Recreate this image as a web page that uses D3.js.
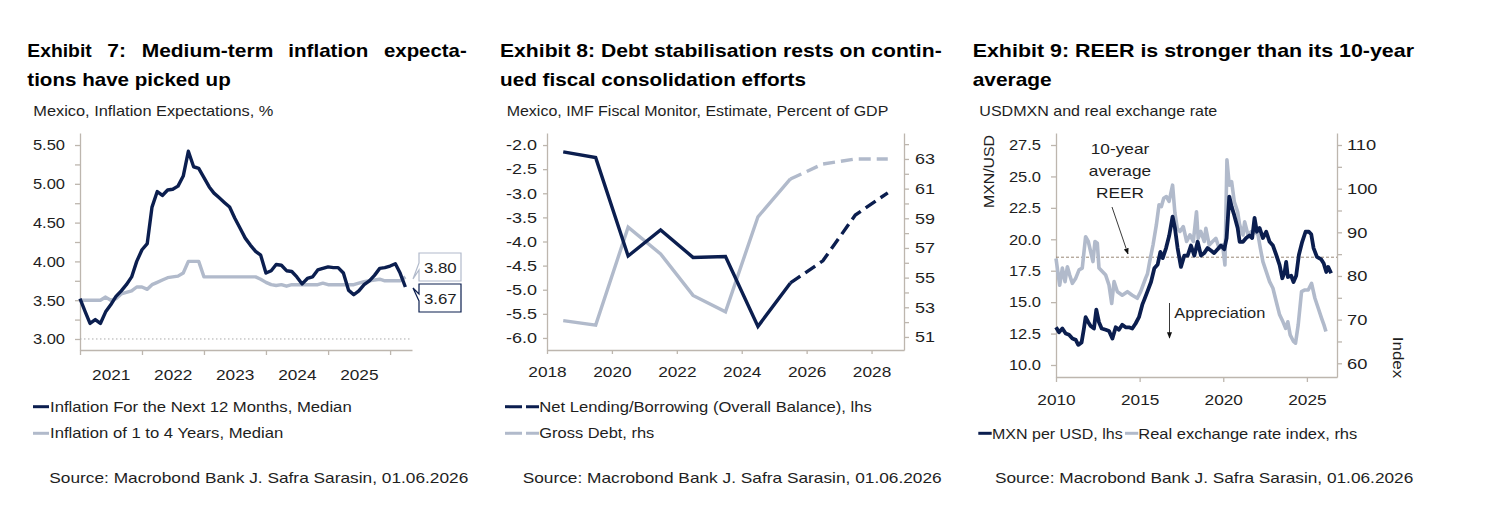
<!doctype html>
<html>
<head>
<meta charset="utf-8">
<script src="https://d3js.org/d3.v7.min.js"></script>
<style>
  body { margin: 0; background: #fff; }
  text { font-family: "Liberation Sans", Arial, sans-serif; }
</style>
</head>
<body>
<script>
// ---- data: Exhibit 7 (monthly, from Jan 2021) ----
var infStart = new Date(2021, 0, 1);
var inf12m = [3.52, 3.35, 3.20, 3.25, 3.20, 3.35, 3.44, 3.55, 3.62, 3.70, 3.80, 4.00,
              4.15, 4.23, 4.70, 4.90, 4.85, 4.92, 4.93, 4.97, 5.10, 5.42, 5.22, 5.20,
              5.08, 4.96, 4.88, 4.82, 4.76, 4.70, 4.56, 4.43, 4.30, 4.21, 4.13, 4.08,
              3.85, 3.88, 3.96, 3.95, 3.88, 3.87, 3.80, 3.71, 3.78, 3.80, 3.89, 3.91,
              3.93, 3.92, 3.92, 3.85, 3.63, 3.57, 3.62, 3.70, 3.75, 3.82, 3.91, 3.92,
              3.94, 3.97, 3.85, 3.67];
var inf1to4 = [3.50, 3.50, 3.50, 3.50, 3.50, 3.54, 3.50, 3.52, 3.58, 3.60, 3.62, 3.67,
               3.67, 3.64, 3.70, 3.73, 3.76, 3.79, 3.80, 3.81, 3.85, 4.00, 4.00, 4.00,
               3.80, 3.80, 3.80, 3.80, 3.80, 3.80, 3.80, 3.80, 3.80, 3.80, 3.80, 3.77,
               3.73, 3.70, 3.69, 3.70, 3.68, 3.70, 3.70, 3.70, 3.70, 3.70, 3.70, 3.72,
               3.70, 3.70, 3.70, 3.70, 3.70, 3.70, 3.72, 3.74, 3.75, 3.76, 3.77, 3.75,
               3.75, 3.75, 3.75, 3.80];
var infTicks = [3.00, 3.50, 4.00, 4.50, 5.00, 5.50];
var infYears = [2021, 2022, 2023, 2024, 2025];

// ---- data: Exhibit 8 (annual, IMF) ----
var fiscalYears = [2018, 2019, 2020, 2021, 2022, 2023, 2024, 2025, 2026, 2027, 2028];
var netLending = [-2.14, -2.26, -4.30, -3.76, -4.33, -4.31, -5.76, -4.86, -4.40, -3.45, -2.99];
var grossDebt = [52.1, 51.8, 58.4, 56.6, 53.8, 52.7, 59.1, 61.65, 62.66, 63.0, 63.0];
var forecastFrom = 2025;
var fiscalLeftTicks = [-6.0, -5.5, -5.0, -4.5, -4.0, -3.5, -3.0, -2.5, -2.0];
var fiscalRightTicks = [51, 53, 55, 57, 59, 61, 63];
var fiscalXTicks = [2018, 2020, 2022, 2024, 2026, 2028];

// ---- data: Exhibit 9 ([decimal year, value]) ----
var mxnPerUsd = [[2010.0, 13.0], [2010.18, 12.6], [2010.38, 12.9], [2010.58, 12.5], [2010.78, 12.4],
  [2010.98, 12.1], [2011.18, 12.0], [2011.33, 11.6], [2011.53, 11.8], [2011.67, 12.9], [2011.77, 13.8],
  [2011.93, 13.4], [2012.07, 13.1], [2012.27, 12.9], [2012.41, 14.4], [2012.57, 13.4], [2012.73, 12.9],
  [2012.97, 12.8], [2013.17, 12.7], [2013.37, 12.1], [2013.57, 13.0], [2013.76, 12.8], [2013.96, 13.2],
  [2014.16, 13.0], [2014.36, 13.0], [2014.56, 12.9], [2014.76, 13.3], [2014.96, 13.8], [2015.16, 14.8],
  [2015.28, 15.2], [2015.48, 15.9], [2015.68, 16.6], [2015.88, 17.7], [2016.08, 18.0], [2016.24, 19.0],
  [2016.38, 18.5], [2016.58, 19.3], [2016.77, 20.3], [2016.97, 21.8], [2017.11, 20.9], [2017.27, 19.3],
  [2017.47, 17.8], [2017.67, 18.7], [2017.87, 18.7], [2018.07, 19.5], [2018.27, 18.7], [2018.47, 19.8],
  [2018.67, 18.7], [2018.86, 18.9], [2019.06, 19.3], [2019.26, 19.1], [2019.46, 18.9], [2019.66, 19.2],
  [2019.86, 19.5], [2020.06, 19.2], [2020.2, 20.1], [2020.36, 23.4], [2020.5, 22.6], [2020.66, 21.9],
  [2020.86, 20.9], [2020.98, 19.8], [2021.18, 19.8], [2021.37, 20.1], [2021.57, 20.3], [2021.73, 20.1],
  [2021.87, 21.7], [2022.01, 20.6], [2022.17, 20.9], [2022.37, 20.1], [2022.57, 20.6], [2022.77, 19.8],
  [2022.97, 19.5], [2023.17, 18.75], [2023.37, 17.95], [2023.53, 16.9], [2023.67, 17.4], [2023.76, 18.2],
  [2023.86, 17.0], [2024.06, 17.1], [2024.2, 16.6], [2024.36, 17.1], [2024.52, 18.75], [2024.72, 19.8],
  [2024.92, 20.6], [2025.12, 20.6], [2025.26, 20.4], [2025.4, 19.3], [2025.6, 18.6], [2025.86, 18.4],
  [2026.0, 18.1], [2026.16, 17.4], [2026.27, 17.8], [2026.45, 17.3]];
var reerIndex = [[2010.0, 84.0], [2010.22, 77.9], [2010.38, 81.8], [2010.54, 78.7], [2010.68, 82.1],
  [2010.82, 80.2], [2010.98, 78.3], [2011.18, 79.5], [2011.38, 81.4], [2011.57, 81.8], [2011.77, 89.0],
  [2011.93, 87.9], [2012.07, 85.6], [2012.21, 83.3], [2012.33, 87.9], [2012.47, 87.5], [2012.57, 81.8],
  [2012.77, 81.0], [2012.97, 80.2], [2013.17, 77.9], [2013.33, 73.7], [2013.47, 78.7], [2013.67, 76.4],
  [2013.96, 75.6], [2014.27, 76.4], [2014.56, 75.6], [2014.86, 74.9], [2015.06, 76.4], [2015.36, 79.5],
  [2015.47, 80.5], [2015.6, 83.3], [2015.8, 87.1], [2016.0, 91.7], [2016.16, 96.3], [2016.3, 95.9],
  [2016.44, 97.8], [2016.6, 98.2], [2016.76, 97.1], [2016.97, 100.8], [2017.11, 94.4], [2017.25, 90.9],
  [2017.41, 90.2], [2017.61, 91.3], [2017.81, 87.9], [2018.01, 89.4], [2018.21, 87.9], [2018.4, 94.7],
  [2018.5, 88.6], [2018.66, 90.2], [2018.86, 87.9], [2018.96, 90.9], [2019.16, 87.1], [2019.36, 87.9],
  [2019.56, 88.6], [2019.76, 86.3], [2019.96, 87.1], [2020.1, 82.5], [2020.22, 106.6], [2020.36, 100.8],
  [2020.5, 101.6], [2020.66, 97.0], [2020.86, 94.7], [2020.98, 91.7], [2021.18, 89.4], [2021.28, 92.4],
  [2021.48, 89.4], [2021.68, 90.2], [2021.88, 90.2], [2022.08, 89.4], [2022.22, 86.3], [2022.37, 83.3],
  [2022.57, 81.0], [2022.77, 78.7], [2022.97, 77.2], [2023.17, 74.1], [2023.37, 71.1], [2023.57, 69.5],
  [2023.73, 68.0], [2023.86, 69.5], [2024.0, 66.5], [2024.2, 65.0], [2024.32, 64.6], [2024.48, 68.8],
  [2024.68, 76.4], [2024.88, 76.8], [2025.08, 76.8], [2025.28, 78.3], [2025.48, 74.9], [2025.68, 72.6],
  [2025.88, 70.3], [2026.02, 68.8], [2026.14, 67.3]];
var reerAverage = 84.3;
var fxLeftTicks = [10.0, 12.5, 15.0, 17.5, 20.0, 22.5, 25.0, 27.5];
var fxRightTicks = [60, 65, 70, 75, 80, 85, 90, 95, 100, 105, 110];
var fxXTicks = [2010, 2015, 2020, 2025];

// ---- styling ----
var navy = "#0b1e4f";
var grey = "#b1bacb";
var axisColor = "#bdb6ae";
var textColor = "#1e1e1e";
var source = "Source: Macrobond Bank J. Safra Sarasin, 01.06.2026";

var svg = d3.select("body").append("svg")
    .attr("width", 1502)
    .attr("height", 508);
svg.append("rect").attr("width", 1502).attr("height", 508).attr("fill", "#fff");

// squeeze/stretch helpers (the reference font runs wide)
function fit(sel, w) {
    sel.attr("textLength", w).attr("lengthAdjust", "spacingAndGlyphs");
}
function stretch(sel, k) {
    sel.each(function() {
        var n = this.getComputedTextLength();
        if (n > 0) d3.select(this).attr("textLength", n * k).attr("lengthAdjust", "spacingAndGlyphs");
    });
}
function label(x, y, str, size, w, weight) {
    var t = svg.append("text").attr("x", x).attr("y", y)
        .attr("font-size", size).attr("fill", weight ? "#000" : textColor)
        .attr("font-weight", weight || "normal").text(str);
    if (w) fit(t, w);
    return t;
}
function styleAxis(g, k) {
    g.select(".domain").attr("stroke", axisColor).attr("stroke-width", 1.3);
    g.selectAll(".tick line").attr("stroke", axisColor).attr("stroke-width", 1.3);
    g.selectAll(".tick text").attr("fill", textColor).attr("font-size", 15)
        .attr("font-family", "Liberation Sans, Arial, sans-serif");
    stretch(g.selectAll(".tick text"), k || 1.15);
}

// ---- titles ----
var t7words = [["Exhibit", 27.3, 64.4], ["7:", 107.3, 18.7], ["Medium-term", 141.7, 131.6],
               ["inflation", 288.3, 80], ["expecta-", 384, 82.7]];
t7words.forEach(function(w) { label(w[1], 57.3, w[0], 19, w[2], "bold"); });
label(27.3, 86, "tions have picked up", 19, 203.4, "bold");
label(33.3, 116, "Mexico, Inflation Expectations, %", 15, 240);

label(500, 57.3, "Exhibit 8: Debt stabilisation rests on contin-", 19, 441.7, "bold");
label(500, 86, "ued fiscal consolidation efforts", 19, 306, "bold");
label(506.7, 116, "Mexico, IMF Fiscal Monitor, Estimate, Percent of GDP", 15, 381.6);

label(972.7, 57.3, "Exhibit 9: REER is stronger than its 10-year", 19, 441.3, "bold");
label(972.7, 86, "average", 19, 79, "bold");
label(979.3, 116, "USDMXN and real exchange rate", 15, 238);

// ================= Exhibit 7 =================
var x1 = d3.scaleTime().domain([infStart, new Date(2026, 4, 10)]).range([80, 412]);
var y1 = d3.scaleLinear().domain([2.858, 5.655]).range([350, 133]);

var g1 = svg.append("g");
var y1Axis = g1.append("g").attr("transform", "translate(80,0)")
    .call(d3.axisLeft(y1).tickValues(d3.range(3, 5.51, 0.25)).tickSize(5).tickSizeOuter(0).tickPadding(10)
        .tickFormat(function(d) { return infTicks.indexOf(d) >= 0 ? d.toFixed(2) : ""; }));
styleAxis(y1Axis, 1.1);

var x1Axis = g1.append("g").attr("transform", "translate(0,350)")
    .call(d3.axisBottom(x1).tickValues(infYears.concat([2026]).map(function(y) { return new Date(y, 0, 1); }))
        .tickSize(5).tickSizeOuter(0).tickFormat(""));
styleAxis(x1Axis);
var x1Labels = g1.append("g").attr("transform", "translate(0,350)")
    .call(d3.axisBottom(x1).tickValues(infYears.map(function(y) { return new Date(y, 6, 1); }))
        .tickSize(0).tickPadding(19).tickFormat(d3.timeFormat("%Y")));
x1Labels.select(".domain").remove();
styleAxis(x1Labels);

g1.append("line")
    .attr("x1", x1.range()[0]).attr("x2", x1.range()[1])
    .attr("y1", y1(3)).attr("y2", y1(3))
    .attr("stroke", "#aaa").attr("stroke-dasharray", "1.5,2.5").attr("stroke-width", 1);

var line1 = d3.line()
    .x(function(d, i) { return x1(d3.timeMonth.offset(infStart, i)); })
    .y(function(d) { return y1(d); });
g1.append("path").datum(inf1to4).attr("d", line1)
    .attr("fill", "none").attr("stroke", grey).attr("stroke-width", 3.4).attr("stroke-linejoin", "round");
g1.append("path").datum(inf12m).attr("d", line1)
    .attr("fill", "none").attr("stroke", navy).attr("stroke-width", 3.4).attr("stroke-linejoin", "round");

// end-value call-outs
function callout(val, color, top, tipY) {
    var bx = 419, bw = 42, bh = 28;
    var p = d3.path();
    p.moveTo(bx, top);
    p.lineTo(bx + bw, top);
    p.lineTo(bx + bw, top + bh);
    p.lineTo(bx, top + bh);
    p.lineTo(bx, top + 17); p.lineTo(bx - 6, tipY); p.lineTo(bx, top + 10);
    p.closePath();
    g1.append("path").attr("d", p.toString()).attr("fill", "#fff")
        .attr("stroke", color).attr("stroke-width", 1.2);
    var t = g1.append("text").attr("x", bx + 5).attr("y", top + bh / 2 + 5.5)
        .attr("font-size", 15).attr("fill", textColor).text(val.toFixed(2));
    stretch(t, 1.12);
}
var last12 = inf12m[inf12m.length - 1], last14 = inf1to4[inf1to4.length - 1];
callout(last14, grey, 253, y1(last14) + 2);
callout(last12, navy, 284, y1(last12) + 1);

// legend 7
g1.append("line").attr("x1", 33).attr("x2", 49).attr("y1", 406.7).attr("y2", 406.7)
    .attr("stroke", navy).attr("stroke-width", 3);
label(50, 411.7, "Inflation For the Next 12 Months, Median", 15, 301.7);
g1.append("line").attr("x1", 33).attr("x2", 49).attr("y1", 433.3).attr("y2", 433.3)
    .attr("stroke", grey).attr("stroke-width", 3);
label(50, 438.3, "Inflation of 1 to 4 Years, Median", 15, 233.3);
label(49.3, 482.7, source, 15, 419);

// ================= Exhibit 8 =================
var x2 = d3.scaleLinear().domain([2018, 2029]).range([547, 904]);
var yL2 = d3.scaleLinear().domain([-6.25, -1.75]).range([350, 133]);
var yR2 = d3.scaleLinear().domain([50.12, 64.75]).range([350, 133]);
var g2 = svg.append("g");

var yL2Axis = g2.append("g").attr("transform", "translate(547,0)")
    .call(d3.axisLeft(yL2).tickValues(fiscalLeftTicks).tickSize(4).tickSizeOuter(0).tickPadding(6)
        .tickFormat(function(d) { return d.toFixed(1); }));
styleAxis(yL2Axis, 1.2);
var yR2Axis = g2.append("g").attr("transform", "translate(904,0)")
    .call(d3.axisRight(yR2).tickValues(d3.range(51, 65, 1)).tickSize(5).tickSizeOuter(0).tickPadding(6)
        .tickFormat(function(d) { return fiscalRightTicks.indexOf(d) >= 0 ? d : ""; }));
styleAxis(yR2Axis, 1.2);
var x2Axis = g2.append("g").attr("transform", "translate(0,350)")
    .call(d3.axisBottom(x2).tickValues(fiscalXTicks).tickSize(4).tickSizeOuter(0).tickPadding(12)
        .tickFormat(function(d) { return d; }));
styleAxis(x2Axis);

var fiscalRows = fiscalYears.map(function(y, i) { return { year: y, nl: netLending[i], gd: grossDebt[i] }; });
var hist = fiscalRows.filter(function(d) { return d.year <= forecastFrom; });
var fcst = fiscalRows.filter(function(d) { return d.year >= forecastFrom; });
var lineGD = d3.line().x(function(d) { return x2(d.year + 0.5); }).y(function(d) { return yR2(d.gd); });
var lineNL = d3.line().x(function(d) { return x2(d.year + 0.5); }).y(function(d) { return yL2(d.nl); });

g2.append("path").datum(hist).attr("d", lineGD).attr("fill", "none").attr("stroke", grey).attr("stroke-width", 3.4);
g2.append("path").datum(fcst).attr("d", lineGD).attr("fill", "none").attr("stroke", grey).attr("stroke-width", 3.4)
    .attr("stroke-dasharray", "12,6");
g2.append("path").datum(hist).attr("d", lineNL).attr("fill", "none").attr("stroke", navy).attr("stroke-width", 3.4);
g2.append("path").datum(fcst).attr("d", lineNL).attr("fill", "none").attr("stroke", navy).attr("stroke-width", 3.4)
    .attr("stroke-dasharray", "12,6");

// legend 8
g2.append("line").attr("x1", 505).attr("x2", 539).attr("y1", 406.7).attr("y2", 406.7)
    .attr("stroke", navy).attr("stroke-width", 3).attr("stroke-dasharray", "17,4");
label(539.3, 411.7, "Net Lending/Borrowing (Overall Balance), lhs", 15, 332.4);
g2.append("line").attr("x1", 505).attr("x2", 539).attr("y1", 433.3).attr("y2", 433.3)
    .attr("stroke", grey).attr("stroke-width", 3).attr("stroke-dasharray", "17,4");
label(539.3, 438.3, "Gross Debt, rhs", 15, 115);
label(522.7, 482.7, source, 15, 419);

// ================= Exhibit 9 =================
var x3 = d3.scaleLinear().domain([2010, 2026.8]).range([1056, 1337]);
var yL3 = d3.scaleLinear().domain([9.045, 28.455]).range([377, 133]);
var yR3 = d3.scaleLinear().domain([56.86, 112.75]).range([377, 133]);
var g3 = svg.append("g");

var yL3Axis = g3.append("g").attr("transform", "translate(1056,0)")
    .call(d3.axisLeft(yL3).tickValues(fxLeftTicks).tickSize(5).tickSizeOuter(0).tickPadding(10)
        .tickFormat(function(d) { return d.toFixed(1); }));
styleAxis(yL3Axis, 1.1);
var yR3Axis = g3.append("g").attr("transform", "translate(1337,0)")
    .call(d3.axisRight(yR3).tickValues(fxRightTicks).tickSize(5).tickSizeOuter(0).tickPadding(5)
        .tickFormat(function(d) { return d % 10 === 0 ? d : ""; }));
styleAxis(yR3Axis, 1.22);
var x3Axis = g3.append("g").attr("transform", "translate(0,377)")
    .call(d3.axisBottom(x3).tickValues(fxXTicks).tickSize(5).tickSizeOuter(0).tickPadding(12)
        .tickFormat(function(d) { return d; }));
styleAxis(x3Axis);

g3.append("line").attr("x1", x3.range()[0]).attr("x2", x3.range()[1])
    .attr("y1", yR3(reerAverage)).attr("y2", yR3(reerAverage))
    .attr("stroke", "#9a8878").attr("stroke-width", 1).attr("stroke-dasharray", "3,2");

var lineR = d3.line().x(function(d) { return x3(d[0]); }).y(function(d) { return yR3(d[1]); });
var lineF = d3.line().x(function(d) { return x3(d[0]); }).y(function(d) { return yL3(d[1]); });
g3.append("path").datum(reerIndex).attr("d", lineR).attr("fill", "none")
    .attr("stroke", grey).attr("stroke-width", 3.6).attr("stroke-linejoin", "round");
g3.append("path").datum(mxnPerUsd).attr("d", lineF).attr("fill", "none")
    .attr("stroke", navy).attr("stroke-width", 3.8).attr("stroke-linejoin", "round");

// axis titles
var lt = g3.append("text").attr("transform", "translate(994,171.5) rotate(-90)")
    .attr("text-anchor", "middle").attr("font-size", 15).attr("fill", textColor).text("MXN/USD");
fit(lt, 73);
var rt = g3.append("text").attr("transform", "translate(1392.5,357.5) rotate(90)")
    .attr("text-anchor", "middle").attr("font-size", 15).attr("fill", textColor).text("Index");
fit(rt, 41.6);

// annotations
svg.append("defs").append("marker").attr("id", "arr")
    .attr("viewBox", "0 0 10 10").attr("refX", 9).attr("refY", 5)
    .attr("markerWidth", 7).attr("markerHeight", 7).attr("orient", "auto")
    .append("path").attr("d", "M0,1 L10,5 L0,9 Z").attr("fill", "#111");
["10-year", "average", "REER"].forEach(function(s, i) {
    var t = g3.append("text").attr("x", 1120).attr("y", [154.3, 175.5, 198.3][i])
        .attr("text-anchor", "middle").attr("font-size", 15).attr("fill", textColor).text(s);
    stretch(t, 1.15);
});
g3.append("line").attr("x1", 1112).attr("y1", 207).attr("x2", 1128).attr("y2", 254)
    .attr("stroke", "#222").attr("stroke-width", 0.9).attr("marker-end", "url(#arr)");
label(1174.3, 317.7, "Appreciation", 15, 91);
g3.append("line").attr("x1", 1169.5).attr("y1", 303).attr("x2", 1169.5).attr("y2", 338)
    .attr("stroke", "#222").attr("stroke-width", 0.9).attr("marker-end", "url(#arr)");

// legend 9
g3.append("line").attr("x1", 978.3).attr("x2", 991.7).attr("y1", 433.3).attr("y2", 433.3)
    .attr("stroke", navy).attr("stroke-width", 3);
label(992, 439, "MXN per USD, lhs", 15, 130.7);
g3.append("line").attr("x1", 1125).attr("x2", 1138.3).attr("y1", 433.3).attr("y2", 433.3)
    .attr("stroke", grey).attr("stroke-width", 3);
label(1138.3, 439, "Real exchange rate index, rhs", 15, 219);
label(995, 483.3, source, 15, 418.3);
</script>
</body>
</html>
